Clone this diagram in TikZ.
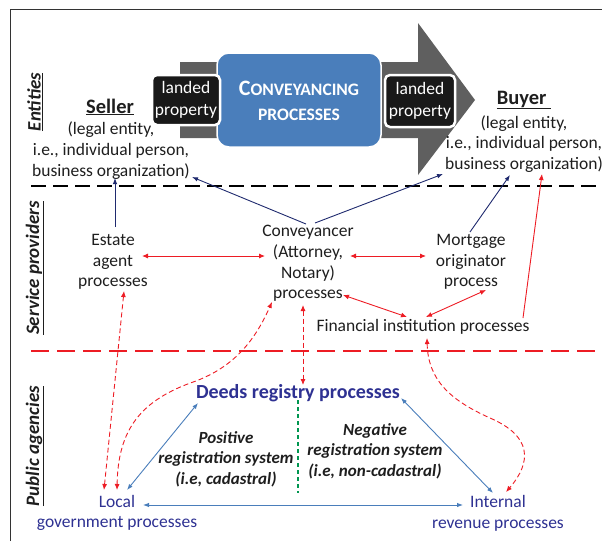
\documentclass[tikz,border=0pt]{standalone}
\usepackage{fontspec}
\setmainfont{Carlito}
\usetikzlibrary{arrows.meta,calc}
\definecolor{navyc}{RGB}{31,42,110}
\definecolor{redc}{RGB}{237,28,36}
\definecolor{bluec}{RGB}{74,126,187}
\definecolor{boxblue}{RGB}{74,126,187}
\definecolor{deedc}{RGB}{46,49,146}
\definecolor{greenc}{RGB}{0,150,80}
\definecolor{greyc}{RGB}{95,95,95}
\definecolor{txtc}{RGB}{30,30,30}
\begin{document}
\begin{tikzpicture}[x=1pt,y=-1pt,
  txt/.style={font=\fontsize{17.5}{20.7}\selectfont, text=txtc, align=center, inner sep=0pt},
  ttl/.style={font=\fontsize{20.5}{22}\selectfont\bfseries, text=txtc, inner sep=0pt},
  lane/.style={rotate=90, font=\fontsize{19}{22}\selectfont\bfseries\itshape, text=txtc, inner sep=0pt},
  agency/.style={txt, text=deedc},
  regsys/.style={txt, font=\fontsize{17}{20.7}\selectfont\bfseries\itshape},
  landbox/.style={fill=black!90, draw=white, line width=2.5pt, rounded corners=5pt, text=white, align=center, font=\fontsize{17.5}{21.5}\selectfont, inner sep=0pt},
  navyarr/.style={draw=navyc, line width=0.9pt, -{Latex[length=6pt,width=4.5pt]}},
  redone/.style={draw=redc, line width=0.9pt, -{Latex[length=6pt,width=5pt]}},
  redarr/.style={draw=redc, line width=0.9pt, {Latex[length=6pt,width=5pt]}-{Latex[length=6pt,width=5pt]}},
  reddash/.style={redarr, dash pattern=on 5pt off 3pt},
  bluearr/.style={draw=bluec, line width=0.9pt, {Latex[length=6pt,width=4.5pt]}-{Latex[length=6pt,width=4.5pt]}}
]
\useasboundingbox (0,0) rectangle (602,541);
% frame
\draw[line width=1pt, black!80] (10,541) -- (10,9.5) -- (602,9.5);
% lane separators
\draw[line width=1.8pt, dash pattern=on 15pt off 7pt] (31,186) -- (596,186);
\draw[line width=1.6pt, redc, dash pattern=on 18pt off 8pt] (31,351) -- (596,351);
% lane labels
\node[lane] (lent) at (35,102) {\underline{Entities}};
\node[lane] (lsp) at (35,268) {\underline{Service providers}};
\node[lane] (lpa) at (35,446) {\underline{Public agencies}};
% big arrow
\fill[greyc] (180,62) -- (418,62) -- (418,23) -- (475,100) -- (418,175) -- (418,138) -- (180,138) -- cycle;
\node[fill=boxblue, draw=white, line width=1.5pt, rounded corners=12pt, minimum width=164pt, minimum height=94pt, inner sep=0pt] (cbox) at (299,100) {};
\node[text=white, align=center, font=\fontsize{17.5}{25}\selectfont\bfseries, inner sep=0pt] (ctext) at (299,100.5)
  {{\fontsize{22}{25}\selectfont C}ONVEYANCING\\PROCESSES};
\node[landbox, minimum width=68pt, minimum height=50pt] (lp1) at (186,100) {landed\\property};
\node[landbox, minimum width=70pt, minimum height=52pt] (lp2) at (420,101) {landed\\property};
% entities
\node[ttl] (sellert) at (110,107) {\underline{Seller}};
\node[txt] (seller) at (111,150.5) {(legal entity,\\i.e., individual person,\\business organization)};
\node[ttl] (buyert) at (524,100) {\underline{Buyer\ }};
\node[txt] (buyer) at (524,144) {(legal entity,\\i.e., individual person,\\business organization)};
% service providers
\node[txt] (estate) at (113,262) {Estate\\agent\\processes};
\node[txt] (conv) at (308,263.5) {Conveyancer\\(Attorney,\\Notary)\\processes};
\node[txt] (mort) at (471,262) {Mortgage\\originator\\process};
\node[txt] (fin) at (423,327) {Financial institution processes};
% public agencies
\node[agency, font=\fontsize{20}{22}\selectfont\bfseries] (deeds) at (298,393) {Deeds registry processes};
\node[regsys] (pos) at (226,459) {Positive\\registration system\\(i.e, cadastral)};
\node[regsys] (neg) at (375,451) {Negative\\registration system\\(i.e, non-cadastral)};
\node[agency] (local) at (117,513) {Local\\government processes};
\node[agency] (internal) at (498,513) {Internal\\revenue processes};
% green divider
\draw[greenc, line width=1.3pt, dash pattern=on 4pt off 3pt] ($(deeds)+(0,7)$) -- ($(deeds)+(0,100)$);
% navy arrows
\draw[navyarr] ($(estate)+(2,-35)$) -- ($(seller)+(4,27.5)$);
\draw[navyarr] ($(conv)+(-2,-39.5)$) -- ($(seller)+(81,26.5)$);
\draw[navyarr] ($(conv)+(7,-40.5)$) -- ($(buyer)+(-81,30)$);
\draw[navyarr] ($(mort)+(-1,-30)$) -- ($(buyer)+(-14,31)$);
% red solid arrows
\draw[redarr] ($(estate)+(29,-6)$) -- ($(conv)+(-43,-7.5)$);
\draw[redarr] ($(conv)+(42,-7.5)$) -- ($(mort)+(-45,-6)$);
\draw[redarr] ($(conv)+(35,31.5)$) -- ($(fin)+(-16,-10)$);
\draw[redarr] ($(fin)+(3,-10)$) -- ($(mort)+(15,28)$);
\draw[redone] ($(fin)+(100,-9)$) -- ($(buyer)+(18,30)$);
% red dashed arrows
\draw[reddash] ($(local)+(-13,-23)$) -- ($(estate)+(11,29)$);
\draw[reddash] ($(local)+(0,-23)$) .. controls ($(local)+(1,-83)$) and ($(local)+(23,-113)$) .. ($(local)+(79,-132)$)
  .. controls ($(local)+(118,-147)$) and ($(conv)+(-53,76.5)$) .. ($(conv)+(-36,38.5)$);
\draw[reddash] ($(conv)+(-5,41.5)$) -- ($(deeds)+(5,-8)$);
\draw[reddash] ($(fin)+(4,11)$) .. controls ($(fin)+(5,53)$) and ($(fin)+(27,73)$) .. ($(fin)+(67,91)$)
  .. controls ($(internal)+(34,-77)$) and ($(internal)+(34,-51)$) .. ($(internal)+(8,-21)$);
% blue arrows
\draw[bluearr] ($(local)+(10,-23)$) -- ($(deeds)+(-100,10)$);
\draw[bluearr] ($(deeds)+(103,5)$) -- ($(internal)+(-5,-20)$);
\draw[bluearr] ($(local)+(26,-8)$) -- ($(internal)+(-35,-8)$);
\end{tikzpicture}
\end{document}
